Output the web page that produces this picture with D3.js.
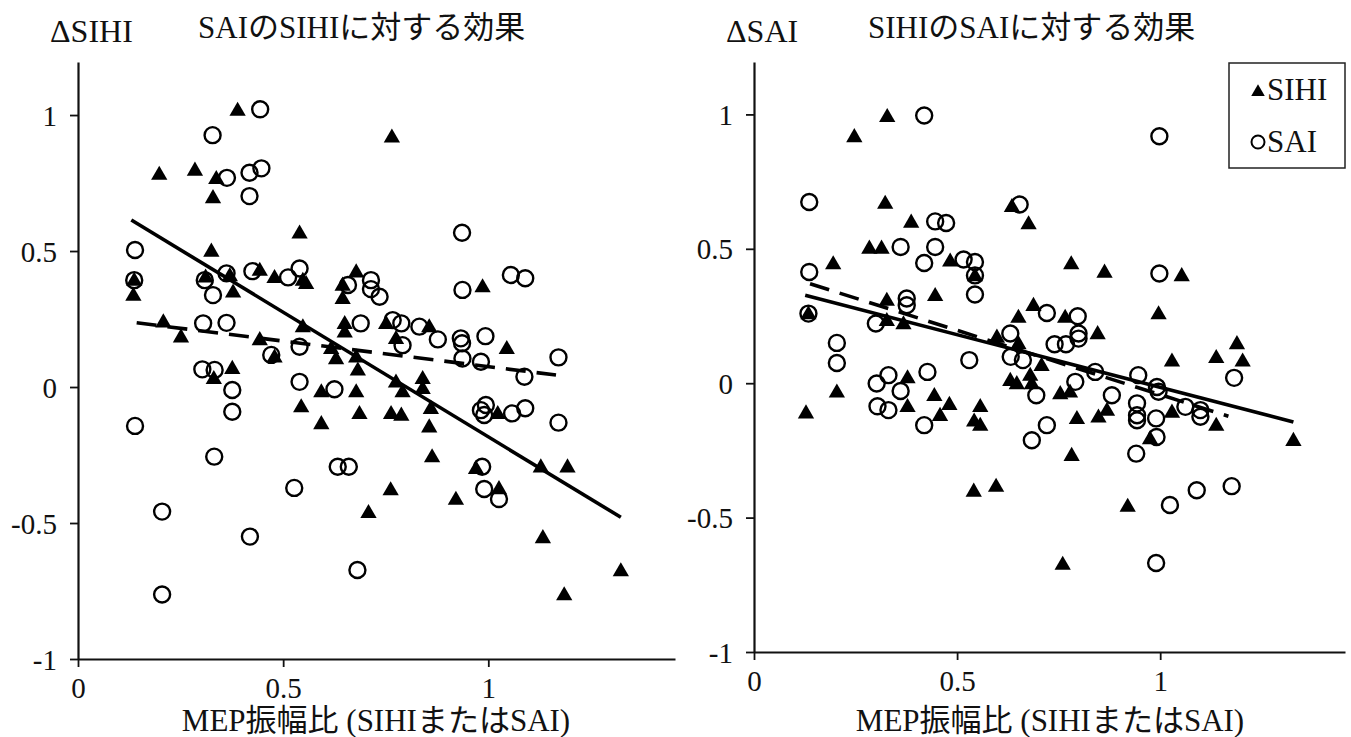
<!DOCTYPE html>
<html>
<head>
<meta charset="utf-8">
<script src="https://cdn.jsdelivr.net/npm/d3@7"></script>
<style>
    body { margin: 0; background: #fff; }
    text { font-family: "Liberation Serif", "Noto Sans CJK JP", serif; fill: #111; }
</style>
</head>
<body>
<svg id="chart" width="1351" height="737"></svg>
<script>
    // left panel: effect of SAI on SIHI
    const leftSihi = [
        [0.389, 1.018], [0.765, 0.920], [0.198, 0.783], [0.285, 0.798], [0.337, 0.767], [0.329, 0.697],
        [0.540, 0.567], [0.325, 0.500], [0.443, 0.430], [0.479, 0.403], [0.548, 0.393], [0.137, 0.393],
        [0.311, 0.405], [0.370, 0.410], [0.135, 0.338], [0.378, 0.350], [0.208, 0.240], [0.251, 0.185],
        [0.443, 0.175], [0.479, 0.111], [0.548, 0.222], [0.331, 0.032], [0.376, 0.069], [0.544, -0.072],
        [0.556, 0.381], [0.645, 0.375], [0.678, 0.424], [0.986, 0.369], [0.645, 0.326], [0.650, 0.234],
        [0.650, 0.203], [0.751, 0.234], [0.775, 0.179], [0.856, 0.222], [1.045, 0.142], [0.617, 0.142],
        [0.629, 0.105], [0.678, 0.111], [0.682, 0.063], [0.593, -0.017], [0.678, -0.017], [0.775, 0.019],
        [0.791, -0.017], [0.840, 0.032], [0.840, -0.005], [0.593, -0.134], [0.686, -0.097], [0.763, -0.097],
        [0.788, -0.103], [0.860, -0.078], [0.856, -0.146], [1.023, -0.097], [0.863, -0.256], [0.970, -0.299],
        [1.128, -0.293], [1.193, -0.293], [0.762, -0.377], [0.708, -0.461], [0.921, -0.412], [1.026, -0.373],
        [1.133, -0.553], [1.323, -0.675], [1.185, -0.763]
    ];
    const leftSai = [
        [0.444, 1.021], [0.328, 0.926], [0.363, 0.769], [0.418, 0.788], [0.447, 0.804], [0.418, 0.702],
        [0.139, 0.504], [0.425, 0.426], [0.512, 0.403], [0.540, 0.436], [0.137, 0.393], [0.309, 0.393],
        [0.362, 0.418], [0.329, 0.338], [0.305, 0.234], [0.362, 0.236], [0.471, 0.118], [0.540, 0.148],
        [0.303, 0.065], [0.333, 0.063], [0.376, -0.011], [0.376, -0.091], [0.540, 0.019], [0.139, -0.143],
        [0.332, -0.256], [0.936, 0.567], [0.658, 0.375], [0.714, 0.393], [0.714, 0.360], [0.735, 0.332],
        [0.937, 0.357], [1.055, 0.412], [1.090, 0.400], [0.689, 0.234], [0.767, 0.246], [0.788, 0.234],
        [0.791, 0.154], [0.832, 0.222], [0.877, 0.175], [0.933, 0.179], [0.936, 0.161], [0.993, 0.187],
        [1.171, 0.109], [0.937, 0.105], [0.982, 0.093], [1.088, 0.038], [0.625, -0.008], [0.982, -0.085],
        [0.994, -0.066], [0.990, -0.103], [1.058, -0.097], [1.090, -0.078], [1.171, -0.131], [0.633, -0.293],
        [0.660, -0.293], [0.985, -0.293], [0.205, -0.458], [0.205, -0.763], [0.527, -0.371], [0.419, -0.550],
        [0.681, -0.673], [0.990, -0.375], [1.026, -0.412]
    ];
    const leftSolid = [[0.13, 0.614], [1.323, -0.479]];
    const leftDashed = [[0.143, 0.236], [1.165, 0.044]];

    // right panel: effect of SIHI on SAI
    const rightSihi = [
        [0.328, 0.993], [0.247, 0.918], [0.323, 0.670], [0.387, 0.600], [0.635, 0.658], [0.284, 0.503],
        [0.314, 0.503], [0.195, 0.445], [0.483, 0.455], [0.544, 0.401], [0.676, 0.594], [0.781, 0.445],
        [0.863, 0.414], [1.053, 0.401], [0.134, 0.259], [0.327, 0.309], [0.446, 0.327], [0.327, 0.234],
        [0.368, 0.222], [0.204, -0.032], [0.128, -0.110], [0.378, 0.021], [0.378, -0.086], [0.444, -0.045],
        [0.481, -0.078], [0.458, -0.119], [0.557, -0.086], [0.557, -0.156], [0.542, -0.140], [0.598, 0.172],
        [0.631, 0.011], [0.996, 0.259], [0.688, 0.290], [0.651, 0.246], [0.766, 0.246], [0.846, 0.185],
        [0.651, 0.148], [0.708, 0.067], [1.029, 0.083], [1.138, 0.096], [1.189, 0.148], [1.203, 0.083],
        [0.647, -0.001], [0.680, 0.030], [0.684, -0.001], [0.754, -0.038], [0.778, -0.032], [1.029, -0.107],
        [1.138, -0.156], [1.328, -0.212], [0.795, -0.131], [0.848, -0.125], [0.869, -0.100], [0.782, -0.268],
        [0.975, -0.206], [0.541, -0.401], [0.596, -0.383], [0.920, -0.457], [0.760, -0.673]
    ];
    const rightSai = [
        [0.419, 0.996], [0.998, 0.919], [0.136, 0.674], [0.446, 0.602], [0.473, 0.596], [0.654, 0.665],
        [0.361, 0.507], [0.446, 0.507], [0.419, 0.447], [0.516, 0.460], [0.544, 0.451], [0.544, 0.401],
        [0.136, 0.414], [0.544, 0.330], [0.998, 0.408], [0.134, 0.259], [0.376, 0.315], [0.376, 0.290],
        [0.300, 0.222], [0.204, 0.150], [0.204, 0.075], [0.530, 0.086], [0.302, -0.001], [0.331, 0.030],
        [0.361, -0.029], [0.427, 0.042], [0.304, -0.086], [0.331, -0.100], [0.419, -0.156], [0.631, 0.185],
        [0.632, 0.098], [0.721, 0.261], [0.797, 0.249], [0.799, 0.185], [0.799, 0.166], [0.740, 0.145],
        [0.768, 0.145], [0.662, 0.086], [1.182, 0.020], [0.695, -0.045], [0.791, 0.005], [0.840, 0.042],
        [0.881, -0.045], [0.946, 0.030], [0.992, -0.014], [0.996, -0.032], [0.943, -0.075], [0.943, -0.119],
        [0.943, -0.138], [0.990, -0.131], [1.062, -0.088], [1.099, -0.100], [1.099, -0.125], [0.721, -0.156],
        [0.684, -0.212], [0.941, -0.262], [0.991, -0.200], [1.024, -0.453], [1.090, -0.398], [1.176, -0.383],
        [0.990, -0.669]
    ];
    const rightSolid = [[0.126, 0.327], [1.328, -0.144]];
    const rightDashed = [[0.138, 0.37], [1.168, -0.123]];

    const xTicks = [0, 0.5, 1];
    const yTicks = [-1, -0.5, 0, 0.5, 1];
    const xTitle = "MEP振幅比 (SIHIまたはSAI)";
    const legendLabels = ["SIHI", "SAI"];

    const svg = d3.select("#chart");
    const plain = d => String(d); // keep ascii hyphen for negatives

    // one panel = axes + two series + two fit lines
    function drawPanel(p) {
        const x = d3.scaleLinear().domain([0, 1.455]).range([p.left, p.right]);
        const y = d3.scaleLinear().domain([-1, 1.195]).range([p.bottom, p.top]);
        const g = svg.append("g");

        // axes
        const xa = g.append("g")
            .attr("transform", "translate(0," + p.bottom + ")")
            .call(d3.axisBottom(x).tickValues(xTicks).tickSize(8).tickSizeOuter(0).tickFormat(plain));
        const ya = g.append("g")
            .attr("transform", "translate(" + p.left + ",0)")
            .call(d3.axisLeft(y).tickValues(yTicks).tickSize(8).tickSizeOuter(0).tickFormat(plain));
        [xa, ya].forEach(a => {
            a.select(".domain").attr("stroke", "#111").attr("stroke-width", 2.2);
            a.selectAll(".tick line").attr("stroke", "#111").attr("stroke-width", 1.8);
            a.selectAll(".tick text").attr("font-size", 29).attr("fill", "#111")
                .attr("font-family", "Liberation Serif");
        });
        xa.selectAll(".tick text").attr("dy", "0.95em");
        ya.selectAll(".tick text").attr("dy", "0.35em").attr("x", -21);

        // fit lines
        const line = d3.line().x(d => x(d[0])).y(d => y(d[1]));
        g.append("path").attr("d", line(p.solid))
            .attr("fill", "none").attr("stroke", "#000").attr("stroke-width", 3.6);
        g.append("path").attr("d", line(p.dashed))
            .attr("fill", "none").attr("stroke", "#000").attr("stroke-width", 3.6)
            .attr("stroke-dasharray", "20,11");

        // SAI circles
        g.selectAll(".sai").data(p.sai).join("circle")
            .attr("class", "sai")
            .attr("cx", d => x(d[0])).attr("cy", d => y(d[1])).attr("r", 8)
            .attr("fill", "none").attr("stroke", "#000").attr("stroke-width", 2.4);

        // SIHI triangles
        const tri = d3.symbol().type(d3.symbolTriangle).size(115);
        g.selectAll(".sihi").data(p.sihi).join("path")
            .attr("class", "sihi")
            .attr("d", tri)
            .attr("transform", d => "translate(" + x(d[0]) + "," + (y(d[1]) + 1) + ")")
            .attr("fill", "#000");

        // titles
        g.append("text").attr("x", p.left - 28).attr("y", 42)
            .attr("font-size", 32).text(p.yLabel);
        g.append("text").attr("x", p.titleX).attr("y", 38)
            .attr("font-size", 31).text(p.title);
        g.append("text").attr("x", p.xTitleX).attr("y", 731)
            .attr("text-anchor", "middle").attr("font-size", 31).text(xTitle);
    }

    drawPanel({
        left: 78, right: 675, top: 62, bottom: 659,
        sihi: leftSihi, sai: leftSai, solid: leftSolid, dashed: leftDashed,
        yLabel: "\u0394SIHI", title: "SAIのSIHIに対する効果", titleX: 198, xTitleX: 376
    });
    drawPanel({
        left: 754, right: 1345, top: 62, bottom: 652,
        sihi: rightSihi, sai: rightSai, solid: rightSolid, dashed: rightDashed,
        yLabel: "\u0394SAI", title: "SIHIのSAIに対する効果", titleX: 868, xTitleX: 1050
    });

    // legend
    const lg = svg.append("g");
    lg.append("rect").attr("x", 1229).attr("y", 63).attr("width", 116).attr("height", 105)
        .attr("fill", "#fff").attr("stroke", "#222").attr("stroke-width", 1.5);
    lg.append("path").attr("d", d3.symbol().type(d3.symbolTriangle).size(80))
        .attr("transform", "translate(1258,92)").attr("fill", "#000");
    lg.append("circle").attr("cx", 1258).attr("cy", 142).attr("r", 6.5)
        .attr("fill", "none").attr("stroke", "#000").attr("stroke-width", 2);
    lg.selectAll(".lt").data(legendLabels).join("text")
        .attr("class", "lt")
        .attr("x", 1267).attr("y", (d, i) => 100 + i * 52)
        .attr("font-size", 31).text(d => d);
</script>
</body>
</html>
